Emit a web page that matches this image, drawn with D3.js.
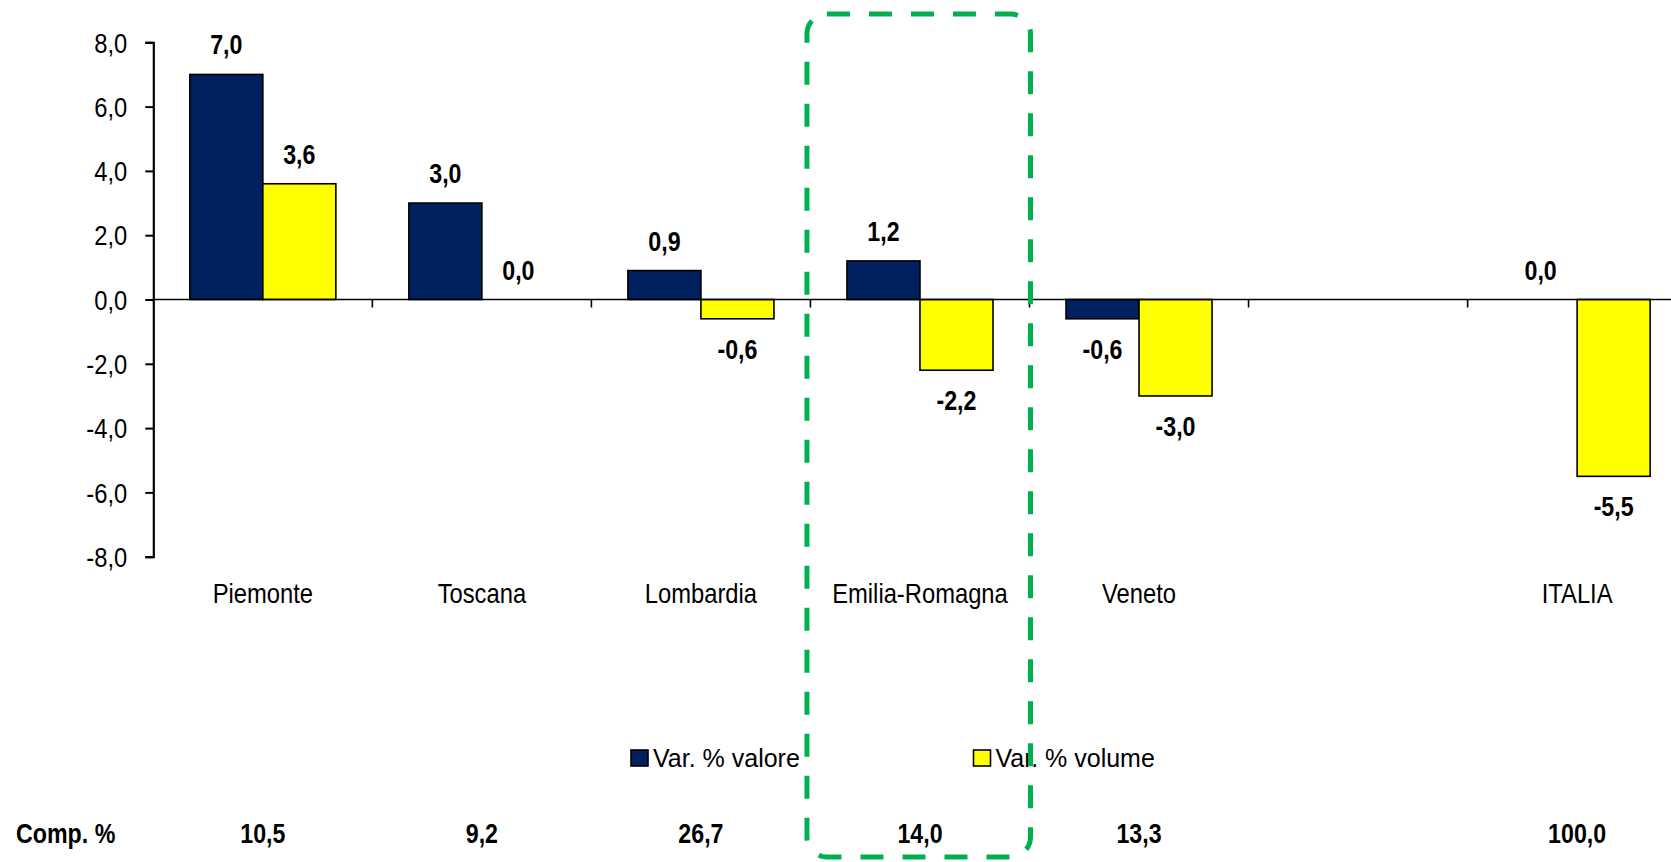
<!DOCTYPE html>
<html>
<head>
<meta charset="utf-8">
<script src="https://cdn.jsdelivr.net/npm/d3@7"></script>
<style>
  html, body { margin: 0; padding: 0; background: #ffffff; }
  svg { display: block; font-family: "Liberation Sans", Arial, sans-serif; }
</style>
</head>
<body>
<svg id="chart" width="1671" height="862"></svg>
<script>
// ---- data ----
const categories = ["Piemonte", "Toscana", "Lombardia", "Emilia-Romagna", "Veneto", "", "ITALIA"];
const valore = [7.0, 3.0, 0.9, 1.2, -0.6, null, 0.0];
const volume = [3.6, 0.0, -0.6, -2.2, -3.0, null, -5.5];
const comp = [10.5, 9.2, 26.7, 14.0, 13.3, null, 100.0];
const seriesNames = ["Var. % valore", "Var. % volume"];
const seriesColors = ["#002060", "#FFFF00"];
const yTicks = [-8, -6, -4, -2, 0, 2, 4, 6, 8];
const compTitle = "Comp. %";
const highlighted = "Emilia-Romagna";

// ---- setup ----
const svg = d3.select("#chart");
const W = 1671, H = 862;
const left = 153.3, step = 219.05;
const locale = d3.formatLocale({ decimal: ",", thousands: ".", grouping: [3], currency: ["", "€"], minus: "-" });
const fmt = locale.format(".1f");

const x = d3.scaleBand().domain(categories).range([left, left + step * categories.length]).padding(0);
const x1 = d3.scaleBand().domain([0, 1]).range([0, x.bandwidth()]).paddingOuter(0.5).paddingInner(0);
const y = d3.scaleLinear().domain([-8, 8]).range([556.7, 42.3]);

const SX = 0.88;   // horizontal condensation of the chart font
const SXB = 0.86;  // condensation for bold labels
const FS = 27;

function stext(g, px, py, str, anchor, bold, sx) {
  return g.append("text")
    .attr("transform", `translate(${px},${py}) scale(${sx},1)`)
    .attr("text-anchor", anchor)
    .attr("font-size", FS)
    .attr("font-weight", bold ? "bold" : "normal")
    .attr("fill", "#000")
    .text(str);
}

// ---- bars ----
const series = [valore, volume];
const barG = svg.append("g");
series.forEach((vals, si) => {
  categories.forEach((c, i) => {
    const v = vals[i];
    if (v === null) return;
    const bx = x(c) + x1(si);
    barG.append("rect")
      .attr("x", bx)
      .attr("y", Math.min(y(v), y(0)))
      .attr("width", x1.bandwidth())
      .attr("height", Math.abs(y(v) - y(0)))
      .attr("fill", seriesColors[si])
      .attr("stroke", "#000")
      .attr("stroke-width", 1.6);
  });
});

// ---- axes ----
const yAxis = d3.axisLeft(y).tickValues(yTicks).tickSize(8).tickFormat(d => fmt(d));
const yg = svg.append("g").attr("transform", `translate(${left},0)`).call(yAxis);
yg.select(".domain").attr("stroke", "#000").attr("stroke-width", 2.2);
yg.selectAll(".tick line").attr("stroke", "#000").attr("stroke-width", 2);
yg.selectAll(".tick text")
  .attr("font-size", FS)
  .attr("font-family", "Liberation Sans, Arial, sans-serif")
  .attr("fill", "#000")
  .attr("x", -26 / SX)
  .attr("dy", "0.36em")
  .attr("transform", `scale(${SX},1)`);

// x axis at zero, ticks at category boundaries
const xg = svg.append("g");
xg.append("line")
  .attr("x1", left).attr("x2", W + 20)
  .attr("y1", y(0)).attr("y2", y(0))
  .attr("stroke", "#000").attr("stroke-width", 1.6);
categories.forEach((c, i) => {
  if (i === 0) return;
  xg.append("line")
    .attr("x1", x(c)).attr("x2", x(c))
    .attr("y1", y(0)).attr("y2", y(0) + 8)
    .attr("stroke", "#000").attr("stroke-width", 1.6);
});

// category labels
const catG = svg.append("g");
categories.forEach(c => {
  if (!c) return;
  stext(catG, x(c) + x.bandwidth() / 2, 603, c, "middle", false, SX);
});

// ---- value labels ----
const labG = svg.append("g");
series.forEach((vals, si) => {
  categories.forEach((c, i) => {
    const v = vals[i];
    if (v === null) return;
    const cx = x(c) + x1(si) + x1.bandwidth() / 2;
    const py = v >= 0 ? y(v) - 20 : y(v) + 40;
    stext(labG, cx, py, fmt(v), "middle", true, SXB);
  });
});

// ---- legend ----
const legG = svg.append("g");
const legendPos = [631, 973.5];
seriesNames.forEach((n, i) => {
  legG.append("rect")
    .attr("x", legendPos[i]).attr("y", 750)
    .attr("width", 17).attr("height", 16)
    .attr("fill", seriesColors[i])
    .attr("stroke", "#000").attr("stroke-width", 1.6);
  legG.append("text")
    .attr("x", legendPos[i] + 22).attr("y", 766.5)
    .attr("font-size", 25)
    .attr("fill", "#000")
    .text(n);
});

// ---- composition row ----
const compG = svg.append("g");
stext(compG, 16, 842.7, compTitle, "start", true, SXB);
categories.forEach((c, i) => {
  if (comp[i] === null) return;
  stext(compG, x(c) + x.bandwidth() / 2, 842.7, fmt(comp[i]), "middle", true, SXB);
});

// ---- highlight box ----
const hx0 = x(highlighted) - 3.5, hx1 = x(highlighted) + x.bandwidth() + 1;
svg.append("rect")
  .attr("x", hx0).attr("y", 14)
  .attr("width", hx1 - hx0).attr("height", 843)
  .attr("rx", 20).attr("ry", 20)
  .attr("fill", "none")
  .attr("stroke", "#00B050")
  .attr("stroke-width", 5)
  .attr("stroke-dasharray", "23 19");
</script>
</body>
</html>
